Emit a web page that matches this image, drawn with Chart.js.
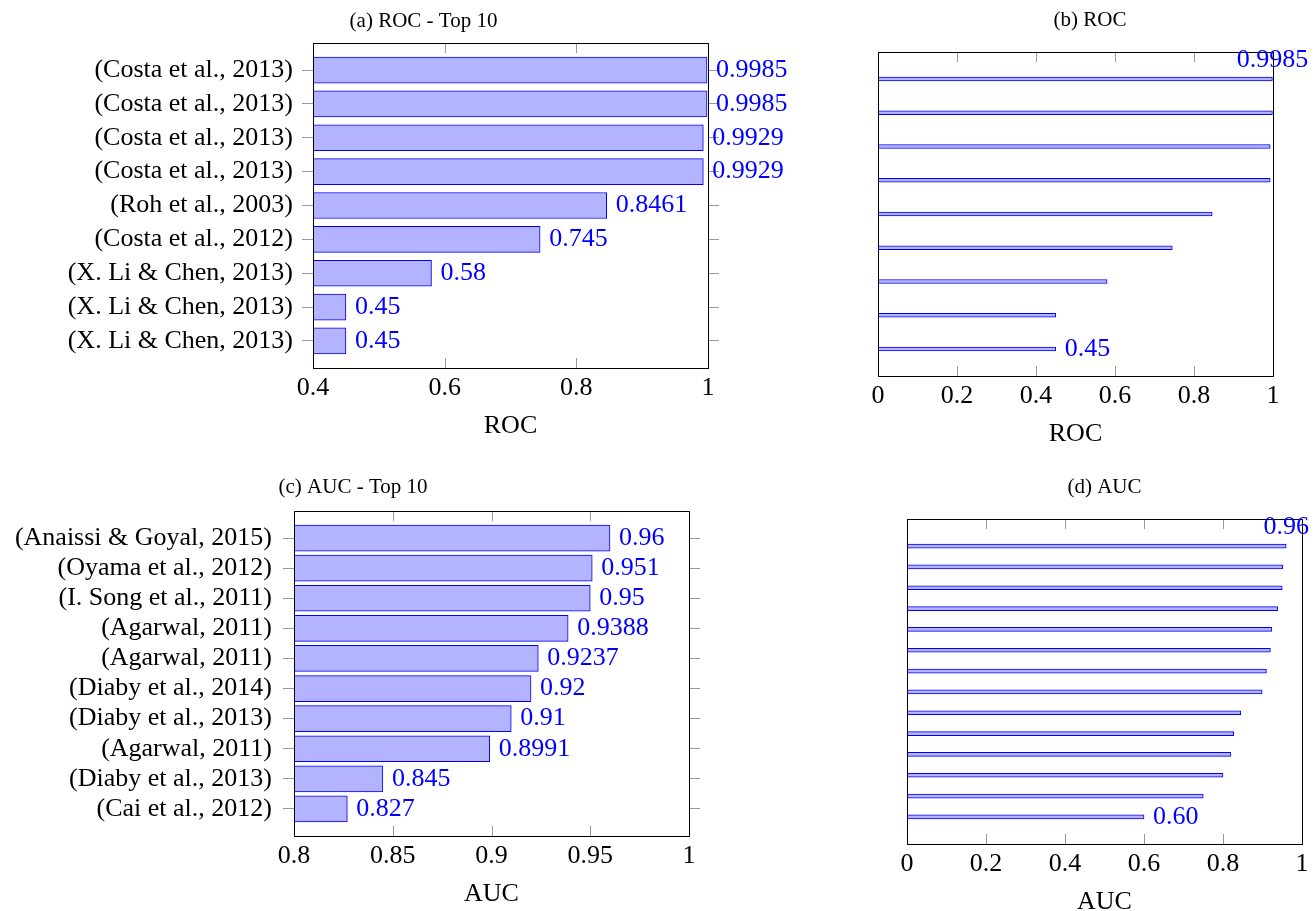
<!DOCTYPE html>
<html>
<head>
<meta charset="utf-8">
<script src="https://cdn.jsdelivr.net/npm/chart.js@4.4.1/dist/chart.umd.min.js"></script>
<style>
  html, body { margin: 0; padding: 0; background: #fff; overflow: hidden; }
  canvas { position: absolute; }
</style>
</head>
<body>
<canvas id="rocTop" width="847" height="450" style="left:0px;top:0px"></canvas>
<canvas id="rocAll" width="450" height="458" style="left:865px;top:0px"></canvas>
<canvas id="aucTop" width="706" height="468" style="left:0px;top:450px"></canvas>
<canvas id="aucAll" width="421" height="476" style="left:894px;top:450px"></canvas>
<script>
Chart.defaults.font.family = "'Liberation Serif', 'Times New Roman', serif";
Chart.defaults.color = '#000';

// (a) ROC - top 10
const rocTopNames = ['(Costa et al., 2013)', '(Costa et al., 2013)', '(Costa et al., 2013)', '(Costa et al., 2013)',
    '(Roh et al., 2003)', '(Costa et al., 2012)', '(X. Li & Chen, 2013)', '(X. Li & Chen, 2013)', '(X. Li & Chen, 2013)'];
const rocTopValues = [0.9985, 0.9985, 0.9929, 0.9929, 0.8461, 0.745, 0.58, 0.45, 0.45];
const rocTopNotes = ['0.9985', '0.9985', '0.9929', '0.9929', '0.8461', '0.745', '0.58', '0.45', '0.45'];
const rocTopTicks = [0.4, 0.6, 0.8, 1];

// (b) ROC - all
const rocAllValues = [0.9985, 0.9985, 0.9929, 0.9929, 0.8461, 0.745, 0.58, 0.45, 0.45];
const rocAllNotes = ['0.9985', '', '', '', '', '', '', '', '0.45'];

// (c) AUC - top 10
const aucTopNames = ['(Anaissi & Goyal, 2015)', '(Oyama et al., 2012)', '(I. Song et al., 2011)', '(Agarwal, 2011)',
    '(Agarwal, 2011)', '(Diaby et al., 2014)', '(Diaby et al., 2013)', '(Agarwal, 2011)', '(Diaby et al., 2013)', '(Cai et al., 2012)'];
const aucTopValues = [0.96, 0.951, 0.95, 0.9388, 0.9237, 0.92, 0.91, 0.8991, 0.845, 0.827];
const aucTopNotes = ['0.96', '0.951', '0.95', '0.9388', '0.9237', '0.92', '0.91', '0.8991', '0.845', '0.827'];
const aucTopTicks = [0.8, 0.85, 0.9, 0.95, 1];

// (d) AUC - all
const aucAllValues = [0.96, 0.951, 0.95, 0.9388, 0.9237, 0.92, 0.91, 0.8991, 0.845, 0.827, 0.82, 0.80, 0.75, 0.60];
const aucAllNotes = ['0.96', '', '', '', '', '', '', '', '', '', '', '', '', '0.60'];

const fullTicks = [0, 0.2, 0.4, 0.6, 0.8, 1];

// frame, inward x ticks and the value labels next to the bars
const pgfAxis = {
    id: 'pgfAxis',
    afterDatasetsDraw(chart, args, opts) {
        const { ctx, chartArea: a } = chart;
        const x = chart.scales.x;
        ctx.save();
        ctx.strokeStyle = '#999';
        ctx.lineWidth = 1;
        ctx.beginPath();
        x.ticks.forEach(t => {
            const px = Math.round(x.getPixelForValue(t.value)) + 0.5;
            if (px < a.left + 2 || px > a.right - 2) return;
            ctx.moveTo(px, a.bottom);
            ctx.lineTo(px, a.bottom - 10);
            ctx.moveTo(px, a.top);
            ctx.lineTo(px, a.top + 10);
        });
        ctx.stroke();
        ctx.strokeStyle = '#000';
        ctx.strokeRect(Math.round(a.left) + 0.5, Math.round(a.top) + 0.5,
            Math.round(a.right - a.left), Math.round(a.bottom - a.top));

        ctx.fillStyle = '#0000ff';
        ctx.font = "26px 'Liberation Serif', serif";
        ctx.textBaseline = 'middle';
        chart.getDatasetMeta(0).data.forEach((bar, i) => {
            const text = opts.notes[i];
            if (!text) return;
            if (i === 0 && opts.firstAbove) {
                ctx.textAlign = 'center';
                ctx.fillText(text, bar.x, bar.y - 19);
            } else {
                ctx.textAlign = 'left';
                ctx.fillText(text, bar.x + 9, bar.y);
            }
        });
        ctx.restore();
    }
};

function drawPanel(id, p) {
    const n = p.values.length;
    const pad = 0.1 * (n - 1); // enlarge limits like pgfplots
    const showY = !!p.names;
    const yBase = {
        type: 'linear',
        axis: 'y',
        reverse: true,
        offset: false,
        min: -pad,
        max: n - 1 + pad,
        border: { display: false },
        afterBuildTicks: s => { s.ticks = p.values.map((v, i) => ({ value: i })); }
    };
    const yGrid = {
        display: showY, offset: false, drawOnChartArea: false, drawTicks: true,
        tickLength: 11, color: '#999', tickColor: '#999'
    };

    return new Chart(document.getElementById(id), {
        type: 'bar',
        data: {
            datasets: [{
                data: p.values.map((v, i) => ({ x: v, y: i })),
                backgroundColor: '#b3b3ff',
                borderColor: '#0000ff',
                borderWidth: 1,
                borderSkipped: false,
                barThickness: p.barThickness,
                base: p.ticks[0]
            }]
        },
        plugins: [pgfAxis],
        options: {
            indexAxis: 'y',
            responsive: false,
            animation: false,
            events: [],
            plugins: {
                legend: { display: false },
                tooltip: { enabled: false },
                title: {
                    display: true,
                    text: p.title,
                    color: '#000',
                    font: { size: 21, weight: 'normal', lineHeight: 1.2 },
                    padding: p.titlePad
                },
                pgfAxis: { notes: p.notes, firstAbove: !showY }
            },
            scales: {
                x: {
                    type: 'linear',
                    min: p.ticks[0],
                    max: p.ticks[p.ticks.length - 1],
                    grid: { display: false, drawTicks: false },
                    border: { display: false },
                    afterBuildTicks: s => { s.ticks = p.ticks.map(v => ({ value: v })); },
                    afterFit: s => { s.height = 82; },
                    ticks: {
                        autoSkip: false,
                        maxRotation: 0,
                        padding: 5,
                        color: '#000',
                        font: { size: 26, lineHeight: 1.2 },
                        callback: v => String(v)
                    },
                    title: {
                        display: true,
                        text: p.axisTitle,
                        color: '#000',
                        font: { size: 26, lineHeight: 1.2 },
                        padding: { top: 0, bottom: 8 }
                    }
                },
                y: Object.assign({}, yBase, {
                    position: 'left',
                    afterFit: s => { s.width = p.leftWidth; },
                    grid: yGrid,
                    ticks: {
                        display: showY,
                        autoSkip: false,
                        padding: p.labelGap || 0,
                        color: '#000',
                        font: { size: 26, lineHeight: 1.2 },
                        callback: v => (showY ? p.names[v] : '')
                    }
                }),
                yRight: Object.assign({}, yBase, {
                    position: 'right',
                    afterFit: s => { s.width = p.rightWidth; },
                    grid: yGrid,
                    ticks: { display: false }
                })
            }
        }
    });
}

drawPanel('rocTop', {
    title: '(a) ROC - Top 10', names: rocTopNames, values: rocTopValues, notes: rocTopNotes,
    ticks: rocTopTicks, axisTitle: 'ROC', barThickness: 26,
    leftWidth: 313, rightWidth: 139, labelGap: 9, titlePad: { top: 8.4, bottom: 9.4 }
});
drawPanel('rocAll', {
    title: '(b) ROC', names: null, values: rocAllValues, notes: rocAllNotes,
    ticks: fullTicks, axisTitle: 'ROC', barThickness: 4,
    leftWidth: 13, rightWidth: 42, titlePad: { top: 7.4, bottom: 19.4 }
});
drawPanel('aucTop', {
    title: '(c) AUC - Top 10', names: aucTopNames, values: aucTopValues, notes: aucTopNotes,
    ticks: aucTopTicks, axisTitle: 'AUC', barThickness: 26,
    leftWidth: 294, rightWidth: 17, labelGap: 11, titlePad: { top: 24.4, bottom: 11.4 }
});
drawPanel('aucAll', {
    title: '(d) AUC', names: null, values: aucAllValues, notes: aucAllNotes,
    ticks: fullTicks, axisTitle: 'AUC', barThickness: 4,
    leftWidth: 13, rightWidth: 13, titlePad: { top: 24.4, bottom: 19.4 }
});
</script>
</body>
</html>
